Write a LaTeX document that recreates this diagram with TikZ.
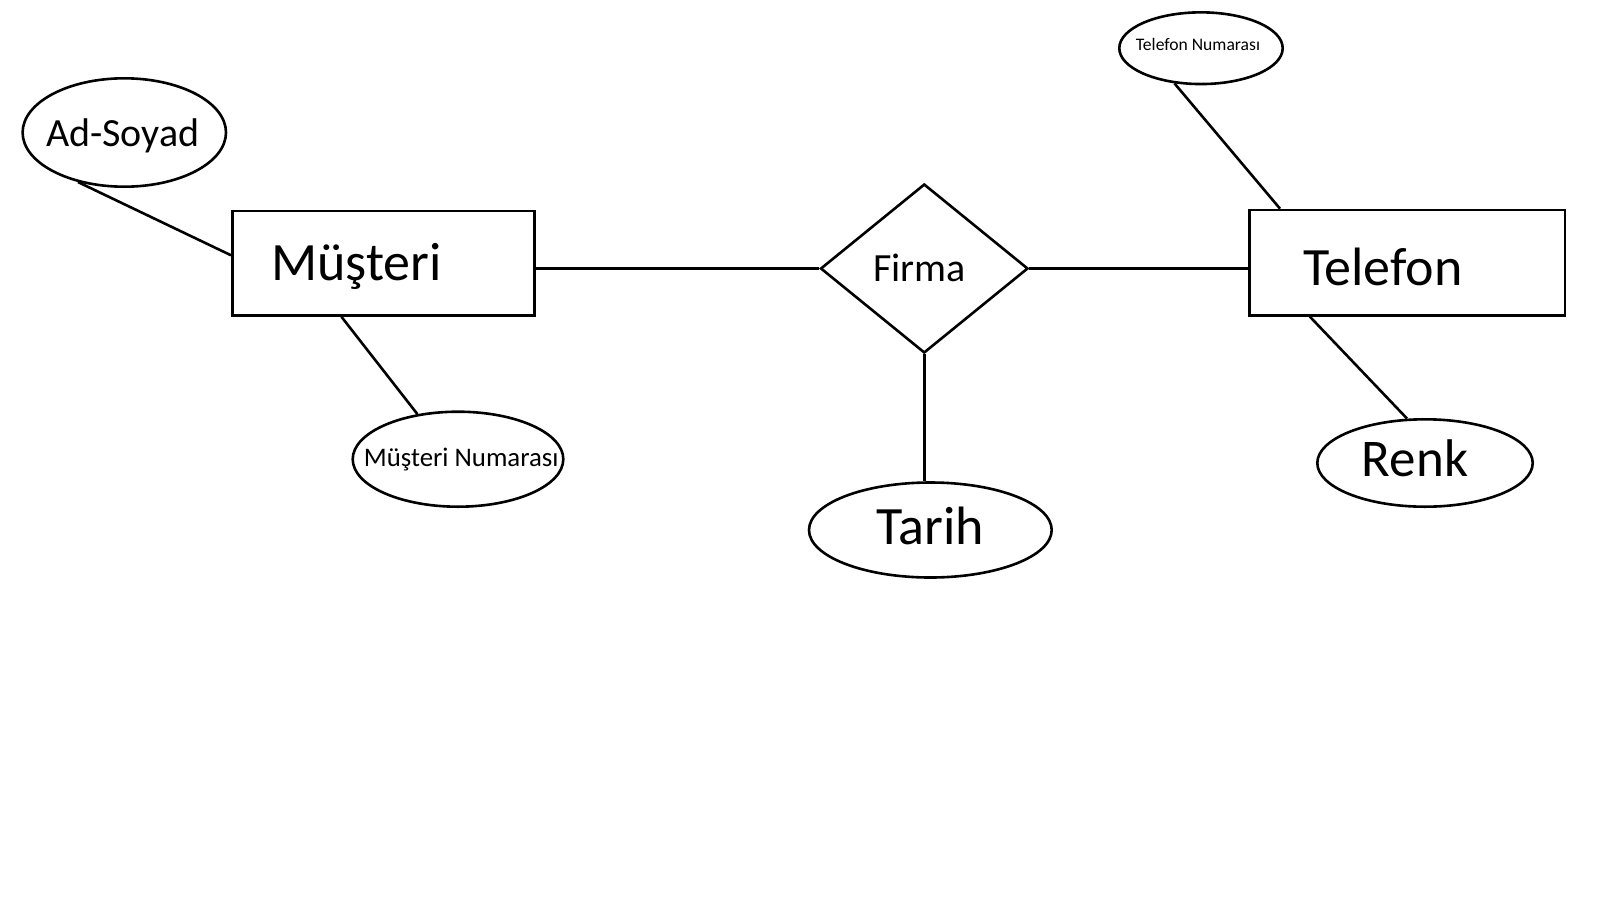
\documentclass[tikz,border=0pt]{standalone}
\usepackage{fontspec}
\setmainfont{Carlito}
\usetikzlibrary{shapes.geometric}
\begin{document}
\begin{tikzpicture}[x=0.5pt,y=-0.5pt, line width=1.3pt,
  attr/.style={draw, ellipse, inner sep=0pt},
  ent/.style={draw, rectangle, inner sep=0pt},
  rel/.style={draw, diamond, inner sep=0pt},
  lbl/.style={anchor=base, inner sep=0pt},
  big/.style={font=\fontsize{27pt}{31pt}\selectfont},
  bigr/.style={font=\fontsize{26.5pt}{30pt}\selectfont},
  mid/.style={font=\fontsize{20pt}{24pt}\selectfont},
  small/.style={font=\fontsize{13.4pt}{16pt}\selectfont},
  tiny/.style={font=\fontsize{8.8pt}{10pt}\selectfont}]
\useasboundingbox (0,0) rectangle (1600,900);
% shapes
\node[attr, minimum width=101.7pt, minimum height=54.2pt] (ad) at (124.3,132.5) {};
\node[ent, minimum width=151pt, minimum height=52.25pt] (mus) at (383.3,263.25) {};
\node[attr, minimum width=105.3pt, minimum height=47.5pt] (mn) at (458,459.2) {};
\node[rel, minimum width=103.75pt, minimum height=84.5pt] (firma) at (924.25,268.5) {};
\node[attr, minimum width=121.35pt, minimum height=47.5pt] (tarih) at (930.35,530) {};
\node[ent, minimum width=157.85pt, minimum height=52.65pt] (tel) at (1407.15,262.65) {};
\node[attr, minimum width=81.7pt, minimum height=35.85pt] (tn) at (1201,48.2) {};
\node[attr, minimum width=107.7pt, minimum height=43.7pt] (renk) at (1425,463) {};
% labels
\node[lbl, mid] (adt) at (122.8,146) {Ad-Soyad};
\node[lbl, big] (must) at (356.7,280) {Müşteri};
\node[lbl, small] (mnt) at (461.2,466.7) {Müşteri Numarası};
\node[lbl, mid] (firmat) at (919.5,281) {Firma};
\node[lbl, big] (tariht) at (930.3,544.3) {Tarih};
\node[lbl, big] (telt) at (1382.8,285) {Telefon};
\node[lbl, tiny] (tnt) at (1198,50) {Telefon Numarası};
\node[lbl, bigr] (renkt) at (1415,476.7) {Renk};
% connectors
\draw (ad.227.4) -- (mus.177.7);
\draw (mus.232.3) -- (mn.132.6);
\draw (firma.west -| mus.east) -- (firma.west);
\draw (firma.east) -- (firma.east -| tel.west);
\draw (firma.south) -- (tarih.north -| firma.south);
\draw (tel.157.1) -- (tn.233.5);
\draw (tel.209.3) -- (renk.112.3);
\end{tikzpicture}
\end{document}
